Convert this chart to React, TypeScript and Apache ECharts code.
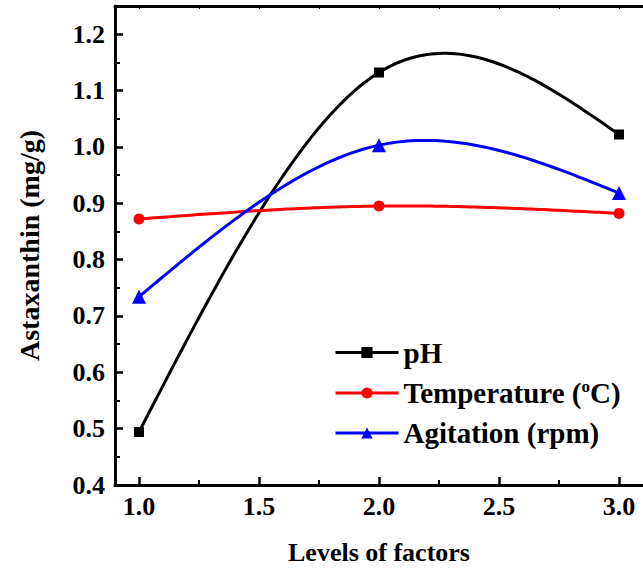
import React, { useEffect, useRef } from 'react';
import * as echarts from 'echarts';

const levels = [1.0, 2.0, 3.0];
const phValues = [0.494, 1.132, 1.022];
const temperatureValues = [0.872, 0.895, 0.882];
const agitationValues = [0.734, 1.003, 0.918];
const seriesNames = ['pH', 'Temperature (°C)', 'Agitation (rpm)'];
const seriesColors = ['#000000', '#ff0000', '#0000ff'];
const seriesSymbols = ['rect', 'circle', 'triangle'];
const xMajorTicks = [1.0, 1.5, 2.0, 2.5, 3.0];
const xMinorTicks = [1.25, 1.75, 2.25, 2.75];
const yMajorTicks = [0.4, 0.5, 0.6, 0.7, 0.8, 0.9, 1.0, 1.1, 1.2];
const yMinorTicks = [0.45, 0.55, 0.65, 0.75, 0.85, 0.95, 1.05, 1.15];

const FONT = '"Liberation Serif", "Times New Roman", serif';

function naturalSpline(xs: number[], ys: number[]) {
  const n = xs.length;
  const h: number[] = [];
  for (let i = 0; i < n - 1; i++) h.push(xs[i + 1] - xs[i]);
  const M = new Array(n).fill(0);
  const a: number[] = [], b: number[] = [], c: number[] = [], d: number[] = [];
  for (let i = 1; i < n - 1; i++) {
    a.push(h[i - 1]);
    b.push(2 * (h[i - 1] + h[i]));
    c.push(h[i]);
    d.push(6 * ((ys[i + 1] - ys[i]) / h[i] - (ys[i] - ys[i - 1]) / h[i - 1]));
  }
  const m = b.length;
  for (let i = 1; i < m; i++) {
    const w = a[i] / b[i - 1];
    b[i] -= w * c[i - 1];
    d[i] -= w * d[i - 1];
  }
  const sol = new Array(m).fill(0);
  for (let i = m - 1; i >= 0; i--) {
    sol[i] = (d[i] - (i < m - 1 ? c[i] * sol[i + 1] : 0)) / b[i];
  }
  for (let i = 0; i < m; i++) M[i + 1] = sol[i];
  return (i: number, x: number) => {
    const hi = h[i];
    const A = xs[i + 1] - x;
    const B = x - xs[i];
    return (
      (M[i] * A * A * A) / (6 * hi) +
      (M[i + 1] * B * B * B) / (6 * hi) +
      (ys[i] - (M[i] * hi * hi) / 6) * (A / hi) +
      (ys[i + 1] - (M[i + 1] * hi * hi) / 6) * (B / hi)
    );
  };
}

export default function App() {
  const ref = useRef<HTMLDivElement>(null);
  useEffect(() => {
    if (!ref.current) return;
    const chart = echarts.init(ref.current, null, { renderer: 'svg' });
    const allValues = [phValues, temperatureValues, agitationValues];

    const curveSeries = allValues.map((vals, si) => {
      const S = naturalSpline(levels, vals);
      return {
        type: 'custom',
        name: 'curve-' + si,
        xAxisIndex: 0,
        yAxisIndex: 0,
        z: 2,
        silent: true,
        data: levels.map((x, i) => [x, vals[i]]),
        encode: { x: 0, y: 1 },
        renderItem: (params: any, api: any) => {
          const i = params.dataIndex;
          if (i >= levels.length - 1) return { type: 'group', children: [] };
          const pts: number[][] = [];
          const N = 60;
          for (let k = 0; k <= N; k++) {
            const x = levels[i] + ((levels[i + 1] - levels[i]) * k) / N;
            pts.push(api.coord([x, S(i, x)]));
          }
          return {
            type: 'polyline',
            shape: { points: pts },
            style: { stroke: seriesColors[si], lineWidth: 3, fill: null },
          };
        },
      };
    });

    const markerSeries = allValues.map((vals, si) => ({
      type: 'line',
      name: seriesNames[si],
      xAxisIndex: 0,
      yAxisIndex: 0,
      z: 3,
      data: levels.map((x, i) => [x, vals[i]]),
      symbol: seriesSymbols[si],
      symbolSize: si === 0 ? 10 : si === 1 ? 11 : 14,
      itemStyle: { color: seriesColors[si] },
      lineStyle: { width: 0, opacity: 0, color: seriesColors[si] },
    }));

    const labelStyle = {
      fontFamily: FONT,
      fontWeight: 'bold',
      fontSize: 26,
      color: '#000',
    };

    chart.setOption({
      animation: false,
      backgroundColor: '#ffffff',
      grid: { left: 115, top: 6, width: 532, height: 479 },
      legend: {
        data: seriesNames,
        orient: 'vertical',
        left: 329,
        top: 333,
        itemWidth: 63,
        itemHeight: 14,
        itemGap: 11,
        selectedMode: false,
        lineStyle: { width: 3, opacity: 1 },
        formatter: (name: string) =>
          name === 'Temperature (°C)'
            ? '{n|Temperature (}{s|o}{n|C)}'
            : '{n|' + name + '}',
        textStyle: {
          rich: {
            n: { fontFamily: FONT, fontWeight: 'bold', fontSize: 29, lineHeight: 30, color: '#000' },
            s: {
              fontFamily: FONT,
              fontWeight: 'bold',
              fontSize: 17,
              lineHeight: 12,
              color: '#000',
              verticalAlign: 'top',
            },
          },
        },
      },
      xAxis: [
        {
          type: 'value',
          min: 0.9,
          max: 3.1,
          position: 'bottom',
          name: 'Levels of factors',
          nameLocation: 'middle',
          nameGap: 54,
          nameTextStyle: { ...labelStyle, fontSize: 26 },
          axisLine: { show: true, onZero: false, lineStyle: { color: '#000', width: 3 } },
          axisTick: {
            show: true,
            inside: true,
            length: 8,
            customValues: xMajorTicks,
            lineStyle: { color: '#000', width: 2.5 },
          },
          axisLabel: {
            show: true,
            customValues: xMajorTicks,
            formatter: (v: number) => v.toFixed(1),
            margin: 8,
            ...labelStyle,
          },
          splitLine: { show: false },
        },
        {
          type: 'value',
          min: 0.9,
          max: 3.1,
          position: 'bottom',
          axisLine: { show: false },
          axisTick: {
            show: true,
            inside: true,
            length: 5,
            customValues: xMinorTicks,
            lineStyle: { color: '#000', width: 2 },
          },
          axisLabel: { show: false },
          splitLine: { show: false },
        },
        {
          type: 'value',
          min: 0.9,
          max: 3.1,
          position: 'top',
          axisLine: { show: true, onZero: false, lineStyle: { color: '#000', width: 3 } },
          axisTick: {
            show: true,
            inside: true,
            length: 3,
            customValues: [...xMajorTicks, ...xMinorTicks],
            lineStyle: { color: '#000', width: 1 },
          },
          axisLabel: { show: false },
          splitLine: { show: false },
        },
      ],
      yAxis: [
        {
          type: 'value',
          min: 0.4,
          max: 1.25,
          position: 'left',
          name: 'Astaxanthin (mg/g)',
          nameLocation: 'middle',
          nameGap: 72,
          nameRotate: 90,
          nameTextStyle: { ...labelStyle, fontSize: 28 },
          axisLine: { show: true, onZero: false, lineStyle: { color: '#000', width: 3 } },
          axisTick: {
            show: true,
            inside: true,
            length: 8,
            customValues: yMajorTicks,
            lineStyle: { color: '#000', width: 2.5 },
          },
          axisLabel: {
            show: true,
            customValues: yMajorTicks,
            formatter: (v: number) => v.toFixed(1),
            margin: 10,
            ...labelStyle,
          },
          splitLine: { show: false },
        },
        {
          type: 'value',
          min: 0.4,
          max: 1.25,
          position: 'left',
          axisLine: { show: false },
          axisTick: {
            show: true,
            inside: true,
            length: 5,
            customValues: yMinorTicks,
            lineStyle: { color: '#000', width: 2 },
          },
          axisLabel: { show: false },
          splitLine: { show: false },
        },
      ],
      series: [...curveSeries, ...markerSeries],
    });
    return () => chart.dispose();
  }, []);
  return (
    <div
      ref={ref}
      style={{ position: 'absolute', left: 0, top: 0, width: 643, height: 575, background: '#fff' }}
    />
  );
}
